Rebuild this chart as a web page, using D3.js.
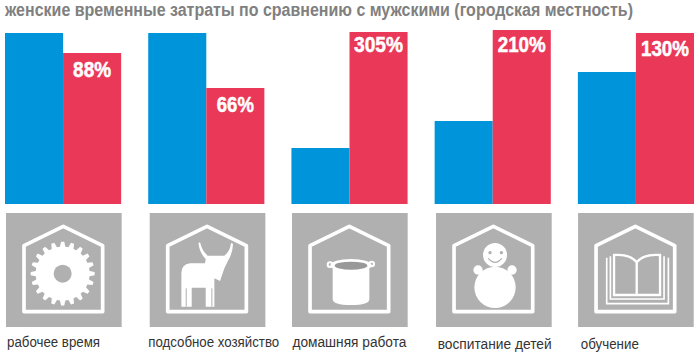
<!DOCTYPE html>
<html>
<head>
<meta charset="utf-8">
<script src="https://cdn.jsdelivr.net/npm/d3@7"></script>
<style>
    html, body { margin: 0; padding: 0; background: #fff; }
    svg { display: block; }
    text { font-family: "Liberation Sans", sans-serif; }
</style>
</head>
<body>
<div id="chart"></div>
<script>
// Chart data (bar heights, each pair is scaled on its own)
const categories = ["рабочее время", "подсобное хозяйство", "домашняя работа", "воспитание детей", "обучение"];
const menValues = [171, 171, 56, 83, 132];
const womenValues = [151, 116, 172, 174, 171];
const percentLabels = ["88%", "66%", "305%", "210%", "130%"];
const titleText = "женские временные затраты по сравнению с мужскими (городская местность)";

const w = 700;
const h = 357;
const blue = "#0095da";
const red = "#ea3859";
const tileGrey = "#b0b0b0";

// Small per-group nudges, the original was laid out by hand
const percentDy = [24, 24, 20, 22, 23];
const percentWidth = [38, 37, 49, 48, 48];
const tileDx = [1, 1.5, 0.6, 1.4, 0.2];
const labelDx = [2, 0, 1, 3, 3];
const labelY = [347, 347, 347, 349, 349];
const labelWidth = [93, 131, 114, 114, 58];

const svg = d3.select("#chart").append("svg")
              .attr("width", w)
              .attr("height", h);

// scales
const xScale = d3.scaleBand()
                 .domain(categories)
                 .range([5, 694])
                 .paddingInner(0.189);
const xInner = d3.scaleBand()
                 .domain(["men", "women"])
                 .range([0, xScale.bandwidth()]);
const yScale = d3.scaleLinear()
                 .domain([0, 174])
                 .range([204, 30]);

// title, no narrow font here so the glyphs get squeezed
svg.append("text")
   .text(titleText)
   .attr("x", 5)
   .attr("y", 16)
   .attr("textLength", 628)
   .attr("lengthAdjust", "spacingAndGlyphs")
   .style("font-size", "17.5px")
   .style("font-weight", "bold")
   .style("fill", "#808080");

// bars
const groups = svg.selectAll("g.group")
                  .data(categories)
                  .enter()
                  .append("g")
                  .attr("class", "group")
                  .attr("transform", d => "translate(" + xScale(d) + ",0)");

groups.append("rect")
      .attr("x", xInner("men"))
      .attr("y", (d, i) => yScale(menValues[i]))
      .attr("width", xInner.bandwidth())
      .attr("height", (d, i) => yScale(0) - yScale(menValues[i]))
      .style("fill", blue);

groups.append("rect")
      .attr("x", xInner("women"))
      .attr("y", (d, i) => yScale(womenValues[i]))
      .attr("width", xInner.bandwidth())
      .attr("height", (d, i) => yScale(0) - yScale(womenValues[i]))
      .style("fill", red);

groups.append("text")
      .text((d, i) => percentLabels[i])
      .attr("x", (d, i) => xInner("women") + xInner.bandwidth() / 2 - percentWidth[i] / 2)
      .attr("y", (d, i) => yScale(womenValues[i]) + percentDy[i])
      .attr("textLength", (d, i) => percentWidth[i])
      .attr("lengthAdjust", "spacingAndGlyphs")
      .style("font-size", "21.5px")
      .style("font-weight", "bold")
      .style("fill", "#fff")
      .style("stroke", "#fff")
      .style("stroke-width", 0.5);

// category labels
svg.selectAll("text.label")
   .data(categories)
   .enter()
   .append("text")
   .attr("class", "label")
   .text(d => d)
   .attr("x", (d, i) => xScale(d) + labelDx[i])
   .attr("y", (d, i) => labelY[i])
   .attr("textLength", (d, i) => labelWidth[i])
   .attr("lengthAdjust", "spacingAndGlyphs")
   .style("font-size", "15.5px")
   .style("fill", "#333");

const tiles = svg.selectAll("g.tile")
                 .data(categories)
                 .enter()
                 .append("g")
                 .attr("class", "tile")
                 .attr("transform", (d, i) => "translate(" + (xScale(d) + tileDx[i]) + ",213) scale(0.3333)");

tiles.append("rect")
     .attr("width", 347)
     .attr("height", 342)
     .style("fill", tileGrey);

tiles.append("path")
     .attr("d", "M54,296 V98 L172,40 L290,98 V296 Z")
     .style("fill", "none")
     .style("stroke", "#fff")
     .style("stroke-width", 11)
     .style("stroke-linejoin", "round");

const white = sel => sel.style("fill", "#fff");
const grey = sel => sel.style("fill", tileGrey);
const line = (sel, width) => sel.style("fill", "none").style("stroke", "#fff").style("stroke-width", width);

// gear
const gear = d3.select(tiles.nodes()[0]);
const gearPts = [];
for (let t = 0; t < 20; t++) {
    const a = t / 20 * 2 * Math.PI;
    const da = 2 * Math.PI / 20;
    [[-0.32, 81], [-0.16, 96], [0.16, 96], [0.32, 81]].forEach(p => {
        gearPts.push([Math.cos(a + p[0] * da) * p[1], Math.sin(a + p[0] * da) * p[1]]);
    });
}
gear.append("path")
    .attr("transform", "translate(170,182)")
    .attr("d", d3.line().curve(d3.curveLinearClosed)(gearPts))
    .call(white);
gear.append("circle").attr("cx", 170).attr("cy", 182).attr("r", 27).call(grey);

// cow
const cow = d3.select(tiles.nodes()[1]);
cow.append("path")
   .attr("d", "M95,281 L95,181 Q95,154 121,151 L166,151 L168,138 Q150,121 146,90 L151,88 Q158,116 174,128 L224,128 Q241,116 244,90 L250,92 Q249,121 236,141 L224,166 L211,204 L194,196 L194,281 L168,281 L168,224 L126,224 L126,281 Z")
   .call(white);
cow.append("rect").attr("x", 108).attr("y", 226).attr("width", 3).attr("height", 55).call(grey);
cow.append("rect").attr("x", 185).attr("y", 226).attr("width", 3).attr("height", 55).call(grey);

// pot
const pot = d3.select(tiles.nodes()[2]);
pot.append("path")
   .attr("d", "M122,156 V258 Q122,276 177,276 Q232,276 232,258 V156 Z")
   .call(white);
pot.append("ellipse").attr("cx", 177).attr("cy", 157).attr("rx", 62).attr("ry", 19).call(white);
pot.append("ellipse").attr("cx", 177).attr("cy", 158).attr("rx", 49).attr("ry", 12).style("fill", "#999");
pot.append("circle").attr("cx", 114).attr("cy", 155).attr("r", 7).call(s => line(s, 6));
pot.append("circle").attr("cx", 239).attr("cy", 153).attr("r", 7).call(s => line(s, 6));

// snowman
const toy = d3.select(tiles.nodes()[3]);
toy.append("circle").attr("cx", 177).attr("cy", 223).attr("r", 62).call(white);
toy.append("circle").attr("cx", 177).attr("cy", 126).attr("r", 36).call(white);
toy.append("circle").attr("cx", 126).attr("cy", 171).attr("r", 14).call(white);
toy.append("circle").attr("cx", 228).attr("cy", 171).attr("r", 14).call(white);
toy.append("circle").attr("cx", 162).attr("cy", 119).attr("r", 5).call(grey);
toy.append("circle").attr("cx", 196).attr("cy", 119).attr("r", 5).call(grey);
toy.append("path")
   .attr("d", "M157,136 Q177,160 197,136")
   .style("fill", "none")
   .style("stroke", tileGrey)
   .style("stroke-width", 4);

// book
const book = d3.select(tiles.nodes()[4]);
book.append("path")
    .attr("d", "M108,246 V126 Q155,122 176,148 Q197,122 246,126 V246 Z M176,148 V246")
    .call(s => line(s, 7));
book.append("path").attr("d", "M97,130 V258 H258 V130").call(s => line(s, 5));
book.append("path").attr("d", "M86,134 V272 H271 V134").call(s => line(s, 5));
</script>
</body>
</html>
